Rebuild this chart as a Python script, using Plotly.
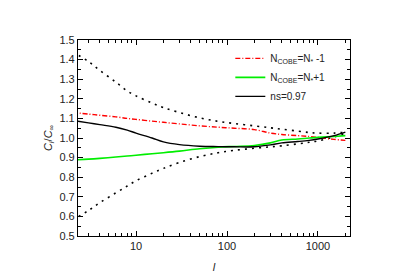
import plotly.graph_objects as go

ell = [2, 3, 4, 6, 8, 10, 15, 20, 30, 50, 80, 120, 200, 300, 400, 600, 800, 1000, 1500, 2000]
upper = [1.44, 1.39, 1.345, 1.285, 1.24, 1.215, 1.178, 1.155, 1.13, 1.103, 1.085, 1.074, 1.062, 1.052, 1.045, 1.035, 1.028, 1.025, 1.025, 1.03]
lower = [0.58, 0.63, 0.67, 0.72, 0.755, 0.782, 0.82, 0.845, 0.875, 0.905, 0.925, 0.937, 0.948, 0.955, 0.96, 0.97, 0.978, 0.985, 1.005, 1.025]
minus1 = [1.13, 1.122, 1.116, 1.108, 1.10, 1.095, 1.086, 1.08, 1.072, 1.062, 1.055, 1.05, 1.043, 1.025, 1.018, 1.012, 1.008, 1.003, 0.993, 0.988]
plus1 = [0.888, 0.892, 0.896, 0.903, 0.908, 0.912, 0.92, 0.925, 0.933, 0.945, 0.953, 0.957, 0.962, 0.975, 0.99, 0.995, 1.0, 1.003, 1.008, 1.012]
ns097 = [1.09, 1.077, 1.068, 1.055, 1.04, 1.025, 1.0, 0.98, 0.966, 0.958, 0.956, 0.955, 0.955, 0.965, 0.975, 0.982, 0.988, 0.995, 1.012, 1.03]

y_ticks = [0.5, 0.6, 0.7, 0.8, 0.9, 1.0, 1.1, 1.2, 1.3, 1.4, 1.5]
x_ticks = [10, 100, 1000]

font = "Liberation Sans, Arial, sans-serif"
fig = go.Figure()
fig.add_trace(go.Scatter(x=ell, y=upper, mode="lines", showlegend=False,
                         line=dict(color="black", width=1.6, dash="2px,5px"), line_shape="spline"))
fig.add_trace(go.Scatter(x=ell, y=lower, mode="lines", showlegend=False,
                         line=dict(color="black", width=1.6, dash="2px,5px"), line_shape="spline"))
fig.add_trace(go.Scatter(x=ell, y=minus1, mode="lines", name="N<sub>COBE</sub>=N<sub>*</sub> -1",
                         line=dict(color="red", width=1.4, dash="5px,2px,1px,2px"), line_shape="spline"))
fig.add_trace(go.Scatter(x=ell, y=plus1, mode="lines", name="N<sub>COBE</sub>=N<sub>*</sub>+1",
                         line=dict(color="#00ee00", width=1.6), line_shape="spline"))
fig.add_trace(go.Scatter(x=ell, y=ns097, mode="lines", name="ns=0.97",
                         line=dict(color="black", width=1.4), line_shape="spline"))

fig.update_layout(
    width=398, height=275,
    margin=dict(l=70, r=56, t=32, b=47),
    paper_bgcolor="white", plot_bgcolor="white",
    font=dict(family=font, size=11, color="#222"),
    legend=dict(x=0.56, y=0.98, xanchor="left", yanchor="top", bgcolor="rgba(0,0,0,0)",
                font=dict(size=10), itemwidth=30, tracegroupgap=0),
    xaxis=dict(type="log", range=[0.362, 3.352], tickvals=x_ticks, ticktext=[str(v) for v in x_ticks],
               ticks="inside", ticklen=5, tickcolor="black", showline=True, linecolor="black",
               linewidth=1.2, mirror="ticks", showgrid=False, zeroline=False,
               minor=dict(ticks="inside", ticklen=3, tickcolor="black", dtick="D1", showgrid=False),
               title=dict(text="<i>l</i>", font=dict(size=11), standoff=12)),
    yaxis=dict(range=[0.5, 1.5], tickvals=y_ticks, ticktext=[f"{v:.1f}" for v in y_ticks],
               ticks="inside", ticklen=5, tickcolor="black", showline=True, linecolor="black",
               linewidth=1.2, mirror="ticks", showgrid=False, zeroline=False,
               minor=dict(ticks="inside", ticklen=3, tickcolor="black", dtick=0.05, showgrid=False),
               title=dict(text="<i>C<sub>l</sub></i>/<i>C</i><sub>∞</sub>", font=dict(size=11), standoff=4)),
)
fig.write_html("out.html")
